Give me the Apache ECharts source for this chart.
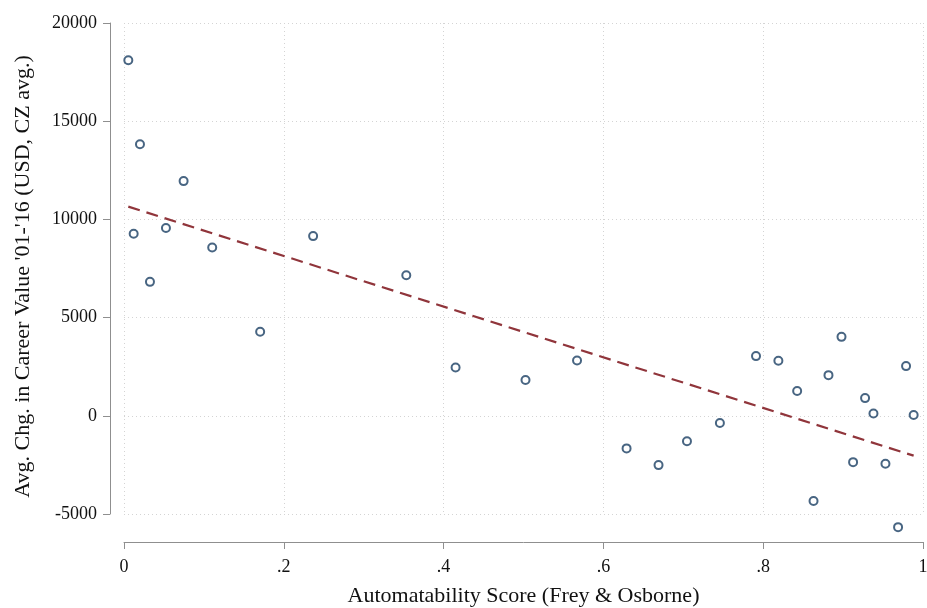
<!DOCTYPE html>
<html>
<head>
<meta charset="utf-8">
<script src="https://cdn.jsdelivr.net/npm/echarts@6/dist/echarts.min.js"></script>
<style>
html,body{margin:0;padding:0;background:#fff;}
#chart{width:927px;height:608px;}
</style>
</head>
<body>
<div id="chart"></div>
<script>
// Automatability score (x) and avg. change in career value (y)
const automatability = [0.0054, 0.0200, 0.0746, 0.0121, 0.0325, 0.0525, 0.1104, 0.1704, 0.2367,
  0.3533, 0.4150, 0.5025, 0.5670,
  0.6290, 0.6690, 0.7046, 0.7458, 0.7910, 0.8190, 0.8425, 0.8630, 0.8817, 0.8980,
  0.9125, 0.9275, 0.9380, 0.9530, 0.9688, 0.9788, 0.9883];
const careerValueChange = [18100, 13830, 11950, 9270, 6820, 9560, 8570, 4280, 9150,
  7160, 2460, 1820, 2820,
  -1660, -2510, -1300, -370, 3040, 2800, 1260, -4340, 2070, 4020,
  -2360, 900, 120, -2440, -5670, 2530, 40];
// Linear fit endpoints
const fitX = [0.0054, 0.9883];
const fitY = [10650, -2030];
const xTickLabels = {0: '0', 0.2: '.2', 0.4: '.4', 0.6: '.6', 0.8: '.8', 1: '1'};
const xTitle = 'Automatability Score (Frey & Osborne)';
const yTitle = "Avg. Chg. in Career Value '01-'16 (USD, CZ avg.)";

const scatterData = automatability.map((x, i) => [x, careerValueChange[i]]);
const fitData = fitX.map((x, i) => [x, fitY[i]]);

const font = '"Liberation Serif", "Times New Roman", serif';
const axisGray = '#8f8f8f';

const chart = echarts.init(document.getElementById('chart'), null, {renderer: 'canvas'});
chart.setOption({
  animation: false,
  backgroundColor: '#ffffff',
  grid: {left: 124, right: 4, top: 23, bottom: 94, containLabel: false, outerBoundsMode: 'none'},
  xAxis: {
    type: 'value', min: 0, max: 1, interval: 0.2, offset: 28,
    name: xTitle, nameLocation: 'middle', nameGap: 43,
    nameTextStyle: {fontFamily: font, fontSize: 22, color: '#111'},
    axisLine: {show: true, onZero: false, lineStyle: {color: axisGray, width: 1}},
    axisTick: {show: true, length: 7, lineStyle: {color: axisGray}},
    axisLabel: {fontFamily: font, fontSize: 18, color: '#111', margin: 16,
      formatter: v => { const k = Math.round(v * 10) / 10; return xTickLabels[k] !== undefined ? xTickLabels[k] : ''; }},
    splitLine: {show: true, lineStyle: {color: '#d4d4d4', type: [1, 3], width: 1}}
  },
  yAxis: {
    type: 'value', min: -5000, max: 20000, interval: 5000, offset: 14,
    name: yTitle, nameLocation: 'middle', nameGap: 76, nameRotate: 90,
    nameTextStyle: {fontFamily: font, fontSize: 22, color: '#111', padding: [0, 16, 0, 0]},
    axisLine: {show: true, onZero: false, lineStyle: {color: axisGray, width: 1}},
    axisTick: {show: true, length: 7, lineStyle: {color: axisGray}},
    axisLabel: {fontFamily: font, fontSize: 18, color: '#111', margin: 13,
      formatter: v => String(v)},
    splitLine: {show: true, lineStyle: {color: '#d4d4d4', type: [1, 3], width: 1}}
  },
  series: [
    {
      type: 'scatter', data: scatterData, clip: false, z: 3,
      symbol: 'circle', symbolSize: 8,
      itemStyle: {color: '#ffffff', borderColor: '#1a3f63', borderWidth: 2}
    },
    {
      type: 'line', data: fitData, showSymbol: false, clip: false, z: 2,
      lineStyle: {color: '#90353b', width: 2.2, type: [12, 7]}
    }
  ]
});
</script>
</body>
</html>
